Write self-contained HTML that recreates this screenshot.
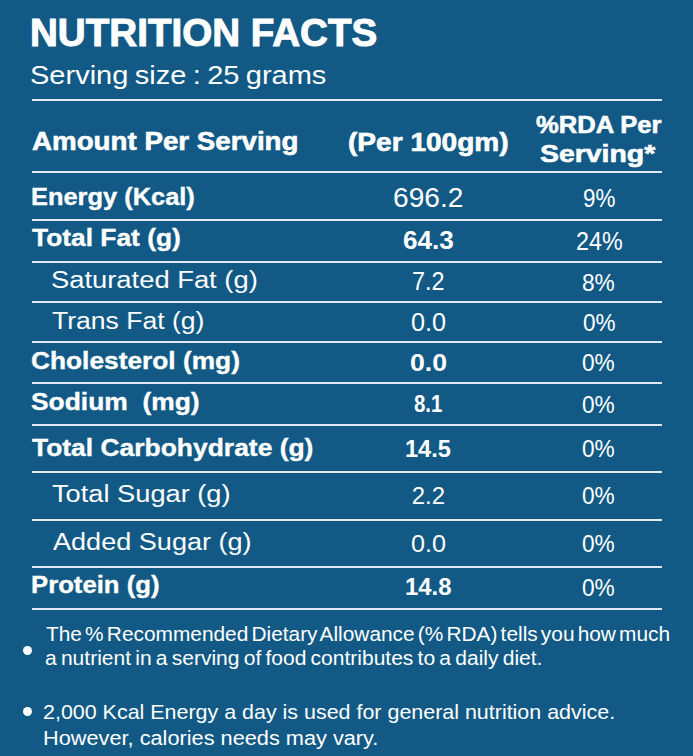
<!DOCTYPE html>
<html><head><meta charset="utf-8"><title>Nutrition Facts</title>
<style>
html,body{margin:0;padding:0;}
body{width:693px;height:756px;background:rgb(18,90,133);position:relative;overflow:hidden;font-family:"Liberation Sans", Arial, sans-serif;color:#fff;}
.t{position:absolute;line-height:1;white-space:pre;transform-origin:0 0;color:#fff;}
.ln{position:absolute;left:31.7px;width:630.5999999999999px;height:2px;background:#e0eaf1;}
.bu{position:absolute;width:9px;height:9px;border-radius:50%;background:#fff;}
</style></head><body>
<div class='ln' style='top:99px'></div><div class='ln' style='top:170.6px'></div><div class='ln' style='top:219.3px'></div><div class='ln' style='top:260.5px'></div><div class='ln' style='top:301px'></div><div class='ln' style='top:341.3px'></div><div class='ln' style='top:382px'></div><div class='ln' style='top:423.7px'></div><div class='ln' style='top:471px'></div><div class='ln' style='top:518.6px'></div><div class='ln' style='top:565.5px'></div><div class='ln' style='top:607.5px'></div>
<div class='t' style='left:30.47px;top:14.60px;font-size:37.97px;font-weight:700;transform:scaleX(1.0162);-webkit-text-stroke:1.0px #fff'>NUTRITION FACTS</div>
<div class='t' style='left:30.36px;top:62.60px;font-size:25.94px;font-weight:400;transform:scaleX(1.1183);word-spacing:-1.5px'>Serving size : 25 grams</div>
<div class='t' style='left:32.30px;top:129.00px;font-size:25.65px;font-weight:700;transform:scaleX(1.0812);-webkit-text-stroke:0.6px #fff'>Amount Per Serving</div>
<div class='t' style='left:347.78px;top:129.60px;font-size:25.07px;font-weight:700;transform:scaleX(1.1197);-webkit-text-stroke:0.6px #fff'>(Per 100gm)</div>
<div class='t' style='left:536.20px;top:113.10px;font-size:24.78px;font-weight:700;transform:scaleX(1.0328);-webkit-text-stroke:0.6px #fff'>%RDA Per</div>
<div class='t' style='left:540.44px;top:142.00px;font-size:24.49px;font-weight:700;transform:scaleX(1.1602);-webkit-text-stroke:0.6px #fff'>Serving*</div>
<div class='t' style='left:30.53px;top:184.70px;font-size:23.84px;font-weight:700;transform:scaleX(1.0664);-webkit-text-stroke:0.35px #fff'>Energy (Kcal)</div>
<div class='t' style='left:32.40px;top:226.40px;font-size:23.84px;font-weight:700;transform:scaleX(1.1060);-webkit-text-stroke:0.35px #fff'>Total Fat (g)</div>
<div class='t' style='left:51.06px;top:267.80px;font-size:24.06px;font-weight:400;transform:scaleX(1.1374)'>Saturated Fat (g)</div>
<div class='t' style='left:51.80px;top:309.20px;font-size:24.06px;font-weight:400;transform:scaleX(1.1037)'>Trans Fat (g)</div>
<div class='t' style='left:30.90px;top:349.20px;font-size:23.84px;font-weight:700;transform:scaleX(1.1037);-webkit-text-stroke:0.35px #fff'>Cholesterol (mg)</div>
<div class='t' style='left:30.69px;top:390.00px;font-size:23.84px;font-weight:700;transform:scaleX(1.1080);-webkit-text-stroke:0.35px #fff'>Sodium  (mg)</div>
<div class='t' style='left:32.40px;top:435.50px;font-size:23.84px;font-weight:700;transform:scaleX(1.1091);-webkit-text-stroke:0.35px #fff'>Total Carbohydrate (g)</div>
<div class='t' style='left:51.87px;top:481.60px;font-size:24.06px;font-weight:400;transform:scaleX(1.1323)'>Total Sugar (g)</div>
<div class='t' style='left:53.00px;top:530.30px;font-size:24.06px;font-weight:400;transform:scaleX(1.1257)'>Added Sugar (g)</div>
<div class='t' style='left:30.72px;top:572.50px;font-size:23.84px;font-weight:700;transform:scaleX(1.0786);-webkit-text-stroke:0.35px #fff'>Protein (g)</div>
<div class='t' style='left:393.11px;top:183.40px;font-size:28.45px;font-weight:400;transform:scaleX(0.9884)'>696.2</div>
<div class='t' style='left:403.19px;top:227.80px;font-size:25.77px;font-weight:700;transform:scaleX(1.0125)'>64.3</div>
<div class='t' style='left:412.06px;top:269.00px;font-size:25.07px;font-weight:400;transform:scaleX(0.9364)'>7.2</div>
<div class='t' style='left:410.91px;top:310.30px;font-size:25.35px;font-weight:400;transform:scaleX(0.9939)'>0.0</div>
<div class='t' style='left:409.61px;top:351.40px;font-size:24.51px;font-weight:700;transform:scaleX(1.0906)'>0.0</div>
<div class='t' style='left:414.05px;top:391.70px;font-size:23.94px;font-weight:700;transform:scaleX(0.8531)'>8.1</div>
<div class='t' style='left:404.70px;top:436.70px;font-size:24.79px;font-weight:700;transform:scaleX(0.9500)'>14.5</div>
<div class='t' style='left:411.80px;top:483.50px;font-size:23.94px;font-weight:400;transform:scaleX(1.0000)'>2.2</div>
<div class='t' style='left:410.77px;top:531.80px;font-size:24.51px;font-weight:400;transform:scaleX(1.0281)'>0.0</div>
<div class='t' style='left:404.65px;top:575.30px;font-size:24.51px;font-weight:700;transform:scaleX(0.9733)'>14.8</div>
<div class='t' style='left:583.11px;top:185.50px;font-size:25.07px;font-weight:400;transform:scaleX(0.8941)'>9%</div>
<div class='t' style='left:575.68px;top:228.80px;font-size:25.21px;font-weight:400;transform:scaleX(0.9245)'>24%</div>
<div class='t' style='left:582.27px;top:270.80px;font-size:24.51px;font-weight:400;transform:scaleX(0.9265)'>8%</div>
<div class='t' style='left:582.56px;top:311.00px;font-size:24.08px;font-weight:400;transform:scaleX(0.9364)'>0%</div>
<div class='t' style='left:582.44px;top:352.20px;font-size:23.66px;font-weight:400;transform:scaleX(0.9576)'>0%</div>
<div class='t' style='left:582.44px;top:393.80px;font-size:23.66px;font-weight:400;transform:scaleX(0.9576)'>0%</div>
<div class='t' style='left:582.44px;top:437.80px;font-size:23.66px;font-weight:400;transform:scaleX(0.9576)'>0%</div>
<div class='t' style='left:582.44px;top:485.30px;font-size:23.66px;font-weight:400;transform:scaleX(0.9576)'>0%</div>
<div class='t' style='left:582.44px;top:532.50px;font-size:23.66px;font-weight:400;transform:scaleX(0.9576)'>0%</div>
<div class='t' style='left:582.44px;top:577.30px;font-size:23.66px;font-weight:400;transform:scaleX(0.9576)'>0%</div>
<div class='t' style='left:45.80px;top:625.20px;font-size:19.71px;font-weight:400;transform:scaleX(1.0599);word-spacing:-2.5px'>The % Recommended Dietary Allowance (% RDA) tells you how much</div>
<div class='t' style='left:44.73px;top:648.80px;font-size:19.71px;font-weight:400;transform:scaleX(1.0672);word-spacing:-1.5px'>a nutrient in a serving of food contributes to a daily diet.</div>
<div class='t' style='left:42.70px;top:702.60px;font-size:19.44px;font-weight:400;transform:scaleX(1.1031)'>2,000 Kcal Energy a day is used for general nutrition advice.</div>
<div class='t' style='left:42.63px;top:728.40px;font-size:20.0px;font-weight:400;transform:scaleX(1.0866)'>However, calories needs may vary.</div>
<div class='bu' style='left:22.8px;top:645.5px'></div><div class='bu' style='left:22.8px;top:707.2px'></div>
</body></html>
